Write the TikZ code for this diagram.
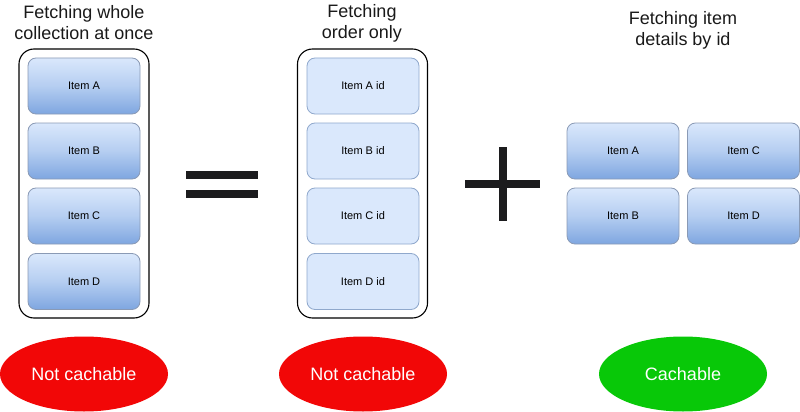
\documentclass[tikz,border=0pt]{standalone}
\usepackage{fontspec}
\setmainfont{Liberation Sans}
\usetikzlibrary{shapes.geometric}
\definecolor{itemtop}{HTML}{DAE8FC}
\definecolor{itembot}{HTML}{7EA6E0}
\definecolor{itemline}{HTML}{8A9AB5}
\definecolor{idfill}{HTML}{DAE8FC}
\definecolor{idline}{HTML}{8FA8CC}
\definecolor{badred}{HTML}{F20707}
\definecolor{goodgreen}{HTML}{08C808}
\definecolor{signcol}{HTML}{1C1C1E}
\begin{document}
\begin{tikzpicture}[x=1pt,y=-1pt,
  container/.style={draw=black,line width=1.1pt,rounded corners=15pt,minimum width=130pt,minimum height=269pt,inner sep=0pt,outer sep=0pt},
  itembox/.style={draw=itemline,line width=0.8pt,rounded corners=8pt,top color=itemtop,bottom color=itembot,middle color=itemtop!60!itembot,minimum width=112pt,minimum height=56pt,inner sep=0pt,outer sep=0pt,font=\fontsize{11}{13}\selectfont},
  idbox/.style={draw=idline,line width=0.8pt,rounded corners=8pt,fill=idfill,minimum width=112pt,minimum height=56pt,inner sep=0pt,outer sep=0pt,font=\fontsize{11}{13}\selectfont},
  title/.style={align=center,font=\fontsize{18}{21}\selectfont,text=black!90,inner sep=0pt},
  verdict/.style={ellipse,minimum width=168pt,minimum height=75pt,inner sep=0pt,text=white,font=\fontsize{18}{21}\selectfont},
  sign/.style={fill=signcol}
]
\useasboundingbox (0,0) rectangle (800,412);
% titles
\node[title] (t1) at (84,23) {Fetching whole\\collection at once};
\node[title] (t2) at (362,23) {Fetching\\order only};
\node[title] (t3) at (683,30) {Fetching item\\details by id};
% containers
\node[container] (c1) at (84,183.5) {};
\node[container] (c2) at (362.5,183.5) {};
% left items
\node[itembox] (la) at (84,86) {Item A};
\node[itembox] (lb) at (84,151) {Item B};
\node[itembox] (lc) at (84,216) {Item C};
\node[itembox] (ld) at (84,281.5) {Item D};
% middle ids
\node[idbox] (ma) at (363,86) {Item A id};
\node[idbox] (mb) at (363,151) {Item B id};
\node[idbox] (mc) at (363,216) {Item C id};
\node[idbox] (md) at (363,281.5) {Item D id};
% right items
\node[itembox] (ra) at (623,151) {Item A};
\node[itembox] (rc) at (743.5,151) {Item C};
\node[itembox] (rb) at (623,216) {Item B};
\node[itembox] (rd) at (743.5,216) {Item D};
% equal sign
\fill[sign] (186,171) rectangle (258,179);
\fill[sign] (186,190) rectangle (258,198);
% plus sign
\fill[sign] (465,180) rectangle (540,188);
\fill[sign] (499,147) rectangle (507,221);
% verdicts
\node[verdict,fill=badred] (v1) at (84,374) {Not cachable};
\node[verdict,fill=badred] (v2) at (363,374) {Not cachable};
\node[verdict,fill=goodgreen] (v3) at (683,374) {Cachable};
\end{tikzpicture}
\end{document}
